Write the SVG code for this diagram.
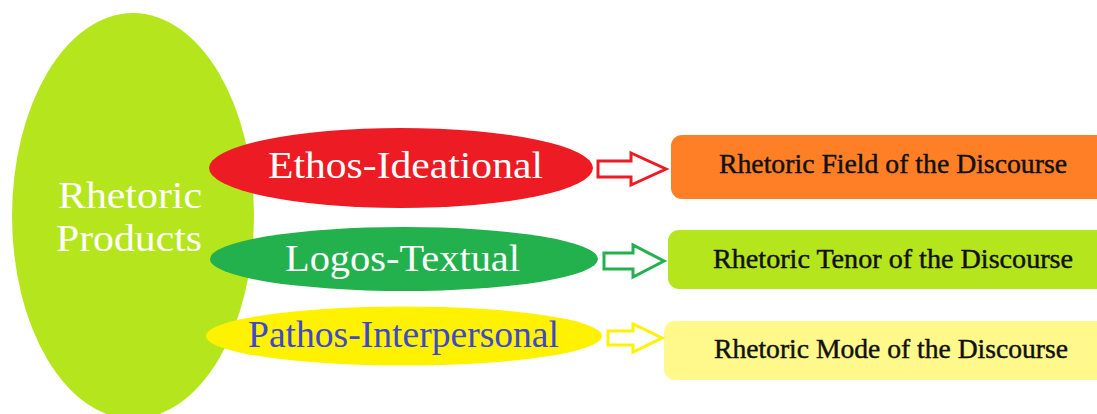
<svg xmlns="http://www.w3.org/2000/svg" width="1097" height="414" viewBox="0 0 1097 414">
<style>
.t{font-family:"Liberation Serif","DejaVu Serif",serif;}
.big{font-size:38px;fill:#ffffff;}
.lbl{font-size:38px;}
.box{font-size:27px;fill:#111111;stroke:#111111;stroke-width:0.45;}
.arr{fill:#ffffff;stroke-width:3;stroke-linejoin:miter;}
</style>
<rect width="1097" height="414" fill="#ffffff"/>
<g id="rhetoric-products">
<ellipse cx="133" cy="216" rx="121" ry="203" fill="#B5E61D"/>
<text class="t big" x="130" y="208" text-anchor="middle" textLength="144" lengthAdjust="spacingAndGlyphs">Rhetoric</text>
<text class="t big" x="129" y="251" text-anchor="middle" textLength="146" lengthAdjust="spacingAndGlyphs">Products</text>
</g>
<g id="ethos">
<ellipse cx="401" cy="168" rx="192" ry="40" fill="#ED1C24"/>
<text class="t lbl" x="405.5" y="178" fill="#ffffff" text-anchor="middle" textLength="275" lengthAdjust="spacingAndGlyphs">Ethos-Ideational</text>
</g>
<g id="logos">
<ellipse cx="404" cy="259" rx="194" ry="32" fill="#22B14C"/>
<text class="t lbl" x="402.5" y="271" fill="#ffffff" text-anchor="middle" textLength="235" lengthAdjust="spacingAndGlyphs">Logos-Textual</text>
</g>
<g id="pathos">
<ellipse cx="404" cy="336" rx="198" ry="29.5" fill="#FFF200"/>
<text class="t lbl" x="403.5" y="347" fill="#3F48CC" text-anchor="middle" textLength="311" lengthAdjust="spacingAndGlyphs">Pathos-Interpersonal</text>
</g>
<g id="field">
<rect x="671" y="135" width="446" height="64" rx="11" fill="#FF7F27"/>
<text class="t box" x="893" y="173" text-anchor="middle" textLength="348" lengthAdjust="spacingAndGlyphs">Rhetoric Field of the Discourse</text>
</g>
<g id="tenor">
<rect x="668" y="230" width="449" height="59" rx="11" fill="#B5E61D"/>
<text class="t box" x="893" y="268" text-anchor="middle" textLength="360" lengthAdjust="spacingAndGlyphs">Rhetoric Tenor of the Discourse</text>
</g>
<g id="mode">
<rect x="664" y="321" width="453" height="59" rx="11" fill="#FFF98C"/>
<text class="t box" x="891" y="358" text-anchor="middle" textLength="354" lengthAdjust="spacingAndGlyphs">Rhetoric Mode of the Discourse</text>
</g>
<g id="connectors">
<polygon class="arr" stroke="#ED1C24" points="598,161 631,161 631,153 666,169 631,185 631,177 598,177"/>
<polygon class="arr" stroke="#22B14C" points="604,253 633,253 633,245 664,261 633,277 633,269 604,269"/>
<polygon class="arr" stroke="#FFF200" points="608,331 633,331 633,324 662,338 633,352 633,345 608,345"/>
</g>
</svg>
